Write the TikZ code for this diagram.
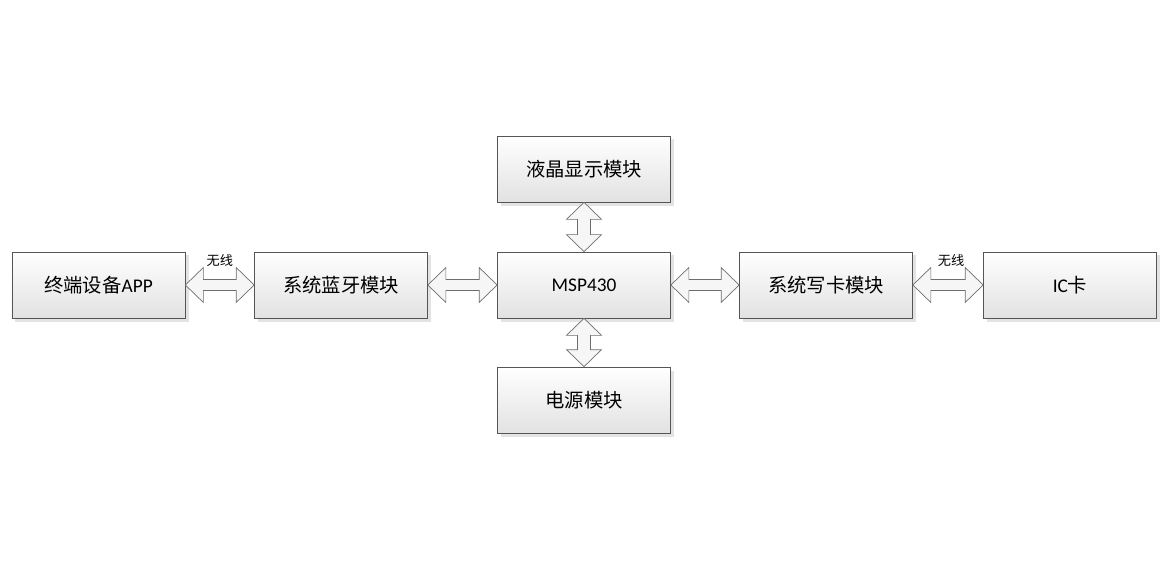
\documentclass[tikz,border=0pt]{standalone}
\usepackage{fontspec}
\setmainfont{Carlito}
\newfontfamily\cjk{Noto Sans CJK SC}
\usepackage{tikz}
\usetikzlibrary{positioning, calc, shadows}
\definecolor{boxedge}{RGB}{85,85,85}
\definecolor{boxlow}{RGB}{226,226,226}
\definecolor{arrowedge}{RGB}{110,110,110}

\tikzset{
  module/.style={rectangle, draw=boxedge, top color=white, bottom color=boxlow,
    minimum width=3.46cm, minimum height=1.32cm, inner sep=0pt,
    font=\fontsize{11pt}{13pt}\selectfont,
    drop shadow={opacity=0.22, shadow xshift=0.07cm, shadow yshift=-0.07cm}},
  blockarrow/.style={draw=arrowedge, fill=gray!7},
  tag/.style={font=\cjk\fontsize{7.5pt}{9pt}\selectfont, inner sep=0pt, anchor=south}
}

% double block arrow, left anchor to right anchor
\newcommand{\harrow}[2]{%
  \path[blockarrow] let \p1=(#1), \p2=(#2) in
    (\x1,\y1) -- ++(0.36cm,0.35cm) -- ++(0,-0.24cm) -- ({\x2-0.36cm},{\y1+0.11cm})
    -- ++(0,0.24cm) -- (\x2,\y1) -- ++(-0.36cm,-0.35cm) -- ++(0,0.24cm)
    -- ({\x1+0.36cm},{\y1-0.11cm}) -- ++(0,-0.24cm) -- cycle;}
% double block arrow, top anchor to bottom anchor
\newcommand{\varrow}[2]{%
  \path[blockarrow] let \p1=(#1), \p2=(#2) in
    (\x1,\y1) -- ++(0.35cm,-0.34cm) -- ++(-0.22cm,0) -- ({\x1+0.13cm},{\y2+0.34cm})
    -- ++(0.22cm,0) -- (\x1,\y2) -- ++(-0.35cm,0.34cm) -- ++(0.22cm,0)
    -- ({\x1-0.13cm},{\y1-0.34cm}) -- ++(-0.22cm,0) -- cycle;}

\begin{document}
\begin{tikzpicture}[x=0.2mm, y=-0.2mm]
\useasboundingbox (0,0) rectangle (1172,587);

% Row of modules
\node[module] at (98.5,285) (app) {{\cjk 终端设备}APP};
\node[module] at (341,285) (bt) {\cjk 系统蓝牙模块};
\node[module] at (584,285) (mcu) {MSP430};
\node[module] at (826,285) (card) {\cjk 系统写卡模块};
\node[module] at (1070,285) (ic) {IC{\cjk 卡}};

% Modules above and below MCU
\node[module] at (584,169) (lcd) {\cjk 液晶显示模块};
\node[module] at (584,400) (power) {\cjk 电源模块};

% Connections
\harrow{app.east}{bt.west}
\harrow{bt.east}{mcu.west}
\harrow{mcu.east}{card.west}
\harrow{card.east}{ic.west}
\varrow{lcd.south}{mcu.north}
\varrow{mcu.south}{power.north}

% Wireless labels
\node[tag] at ($(app.east)!0.5!(bt.west)+(0,-18)$) (w1) {无线};
\node[tag] at ($(card.east)!0.5!(ic.west)+(3,-18)$) (w2) {无线};

\end{tikzpicture}
\end{document}
